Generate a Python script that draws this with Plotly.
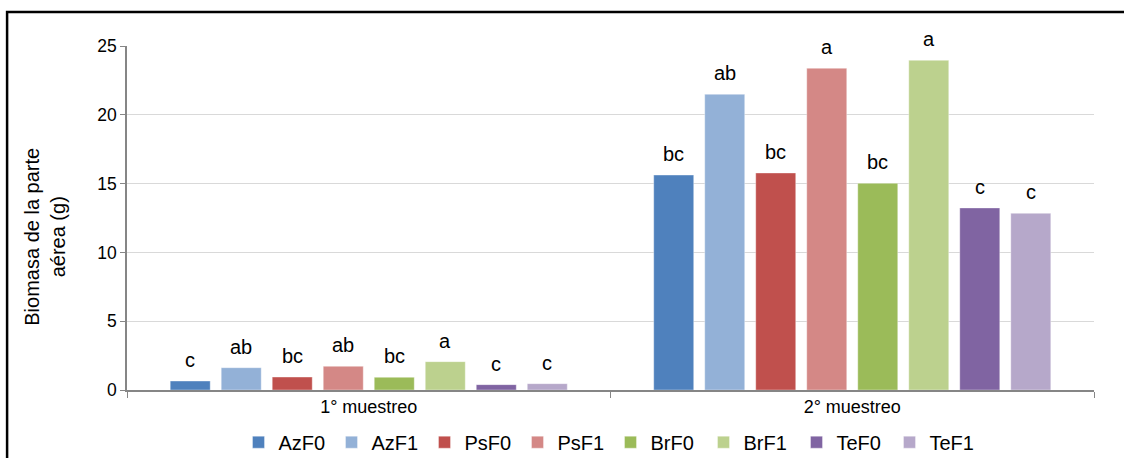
import plotly.graph_objects as go

# Sampling dates (x categories)
muestreos = ["1° muestreo", "2° muestreo"]

# Treatments and their bar colours
tratamientos = ["AzF0", "AzF1", "PsF0", "PsF1", "BrF0", "BrF1", "TeF0", "TeF1"]
colores = ["#4F81BD", "#93B1D7", "#C0504D", "#D48886",
           "#9BBB59", "#BCD18E", "#8064A2", "#B6A8CA"]

# Above-ground biomass (g) per treatment: [1° muestreo, 2° muestreo]
azf0 = [0.65, 15.62]
azf1 = [1.62, 21.49]
psf0 = [0.94, 15.77]
psf1 = [1.72, 23.38]
brf0 = [0.92, 15.02]
brf1 = [2.06, 23.96]
tef0 = [0.39, 13.23]
tef1 = [0.46, 12.84]
valores = [azf0, azf1, psf0, psf1, brf0, brf1, tef0, tef1]

# Significance letters per treatment: [1° muestreo, 2° muestreo]
letras = [
    ["c", "bc"],
    ["ab", "ab"],
    ["bc", "bc"],
    ["ab", "a"],
    ["bc", "bc"],
    ["a", "a"],
    ["c", "c"],
    ["c", "c"],
]

BARGAP = 0.156
GROUPGAP = 0.216
FONT = "Liberation Sans, Arial, sans-serif"

fig = go.Figure()
for nombre, color, vals in zip(tratamientos, colores, valores):
    fig.add_trace(go.Bar(
        name=nombre, x=muestreos, y=vals,
        marker=dict(color=color, line=dict(color="rgba(255,255,255,0.6)", width=0.6)),
    ))

# Letters above each bar, placed on the grouped-bar slot of each treatment
n = len(tratamientos)
slot = (1 - BARGAP) / n
anots = []
for i, (vals, labs) in enumerate(zip(valores, letras)):
    for c, (v, lab) in enumerate(zip(vals, labs)):
        anots.append(dict(
            x=c + (i - (n - 1) / 2) * slot, y=v, xref="x", yref="y",
            text=lab, showarrow=False, yanchor="bottom", yshift=8,
            font=dict(family=FONT, size=20, color="#000000"),
        ))

# Y axis title
anots.append(dict(
    x=-0.085, y=0.445, xref="paper", yref="paper",
    text="Biomasa de la parte<br>aérea (g)", textangle=-90, showarrow=False,
    xanchor="center", yanchor="middle",
    font=dict(family=FONT, size=20, color="#000000"),
))

fig.update_layout(
    width=1124, height=458,
    margin=dict(l=127, r=30, t=46, b=68, autoexpand=False),
    paper_bgcolor="white", plot_bgcolor="white",
    barmode="group", bargap=BARGAP, bargroupgap=GROUPGAP,
    font=dict(family=FONT, size=14, color="#000000"),
    showlegend=True,
    legend=dict(
        orientation="h", x=0.5, xanchor="center", y=-0.095, yanchor="top",
        font=dict(family=FONT, size=20, color="#000000"),
        entrywidth=48, itemwidth=30, tracegroupgap=0,
    ),
    annotations=anots,
    shapes=[dict(
        type="rect", xref="paper", yref="paper",
        x0=-0.124, y0=-0.35, x1=1.2, y1=1.099,
        line=dict(color="#000000", width=2.5), fillcolor="rgba(0,0,0,0)",
        layer="above",
    )],
)

fig.update_xaxes(
    type="category", showline=True, linecolor="#868686", linewidth=1.5,
    ticks="outside", tickson="boundaries", ticklen=6, tickcolor="#868686",
    tickfont=dict(family=FONT, size=18, color="#000000"),
    showgrid=False, zeroline=False, automargin=False,
)
fig.update_yaxes(
    range=[0, 25], dtick=5, showline=True, linecolor="#868686", linewidth=1.5,
    ticks="outside", ticklen=5, tickcolor="#868686",
    tickfont=dict(family=FONT, size=17.5, color="#000000"),
    showgrid=True, gridcolor="#D9D9D9", gridwidth=1, zeroline=False,
    automargin=False,
)

fig.write_html("out.html")
